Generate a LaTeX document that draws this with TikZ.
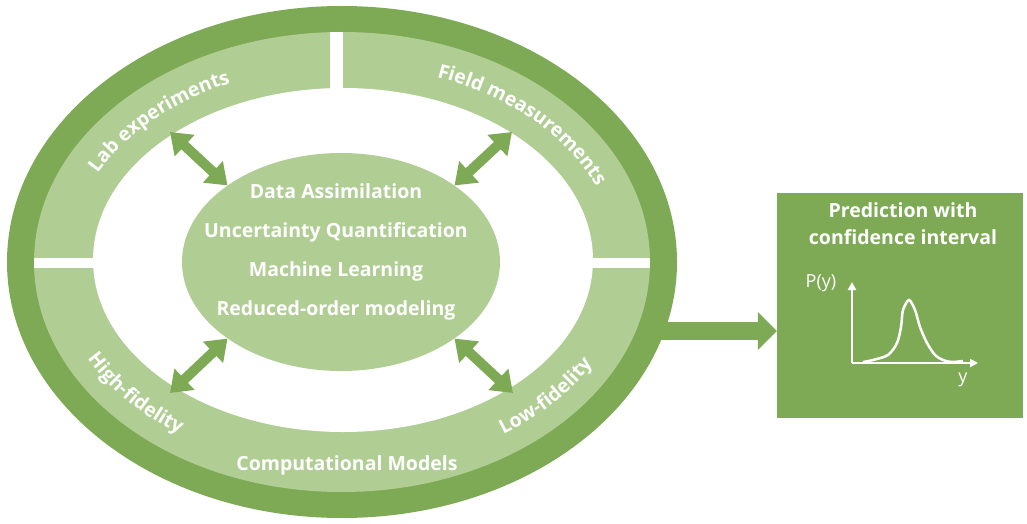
\documentclass[tikz,border=0pt]{standalone}
\usepackage{fontspec}
\setmainfont{Open Sans}
\usetikzlibrary{positioning,arrows.meta,calc,shapes.geometric,decorations.text}
\definecolor{cmGreen}{RGB}{126,170,85}
\definecolor{cmLight}{RGB}{176,206,147}
\newcommand{\ringfont}{\bfseries\fontsize{19.5}{22}\selectfont}

\begin{document}
\begin{tikzpicture}[x=1pt, y=1pt,
  twoway/.style={cmGreen, line width=10pt,
    {Triangle[length=20pt,width=28pt]}-{Triangle[length=20pt,width=28pt]}},
  bigarrow/.style={cmGreen, line width=18pt, -{Triangle[length=19pt,width=37pt]}},
  ringlabel/.style={decorate, decoration={text along path, text align=center,
    text color=white, text={|\ringfont|#1}}},
  ringtext/.style={white, font=\ringfont},
  axis/.style={white, line width=2.5pt, -{Triangle[length=8pt,width=8pt]}}
]
  \useasboundingbox (0,0) rectangle (1027,523);
  \coordinate (ctr) at (342,261);

  % Outer ring and band
  \fill[cmGreen] (ctr) ellipse[x radius=335, y radius=256];
  \fill[cmLight] (ctr) ellipse[x radius=308, y radius=230];
  \begin{scope}
    \clip (ctr) ellipse[x radius=308, y radius=230];
    \fill[white] (330,420) rectangle (343,523);
    \fill[white] (0,255) rectangle (100,265);
    \fill[white] (580,255) rectangle (700,265);
  \end{scope}
  \fill[white] (343,263) ellipse[x radius=250, y radius=172];

  % Core methods
  \node[ellipse, fill=cmLight, minimum width=318pt, minimum height=218pt, inner sep=0pt] (core) at (341,261) {};
  \node[ringtext, align=center, font=\ringfont\fontsize{19.5}{39}\selectfont] (methods) at (336,271)
    {Data Assimilation\\Uncertainty Quantification\\Machine Learning\\Reduced-order modeling};

  % Band labels
  \path[ringlabel=Lab experiments] (ctr) ++(166:274 and 196)
    arc[start angle=166, end angle=104, x radius=274, y radius=196];
  \path[ringlabel=Field measurements] (ctr) ++(77:275 and 197)
    arc[start angle=77, end angle=13, x radius=275, y radius=197];
  \path[ringlabel=High-fidelity] (ctr) ++(192:287 and 209)
    arc[start angle=192, end angle=248, x radius=287, y radius=209];
  \path[ringlabel=Low-fidelity] (ctr) ++(291:287 and 209)
    arc[start angle=291, end angle=347, x radius=287, y radius=209];
  \node[ringtext] (compmodels) at (347,58) {Computational Models};

  % Exchange arrows
  \coordinate (labend) at (170,391);
  \coordinate (fieldend) at (512,391);
  \coordinate (highend) at (170,130);
  \coordinate (lowend) at (513,130);
  \draw[twoway] (labend) -- (core.146);
  \draw[twoway] (fieldend) -- (core.34);
  \draw[twoway] (highend) -- (core.214);
  \draw[twoway] (lowend) -- (core.326);

  % Prediction box
  \node[fill=cmGreen, minimum width=246pt, minimum height=225pt, inner sep=0pt] (pred) at (900,217.5) {};
  \node[white, align=center, font=\ringfont\fontsize{19.5}{27}\selectfont] (predtitle)
    at ($(pred.north)+(3,-31)$) {Prediction with\\confidence interval};
  \coordinate (ringout) at (650,192);
  \draw[bigarrow] (ringout) -- (ringout -| pred.west);

  % Distribution sketch
  \coordinate (orig) at (852,160);
  \draw[axis] (orig) -- ++(0,81);
  \draw[axis] (orig) -- ++(126,0);
  \node[white, font=\fontsize{18}{20}\selectfont] (py) at (821,240) {P(y)};
  \node[white, font=\fontsize{18}{20}\selectfont] (ylab) at (963,143) {y};
  \draw[white, line width=2.5pt] plot[smooth, tension=0.5] coordinates {
    (863,161) (873,163) (888,168) (897,180) (901,196) (903,213) (909,223)
    (915,213) (920,196) (927,180) (935,168) (943,163) (952,161) (963,162)};
\end{tikzpicture}
\end{document}
